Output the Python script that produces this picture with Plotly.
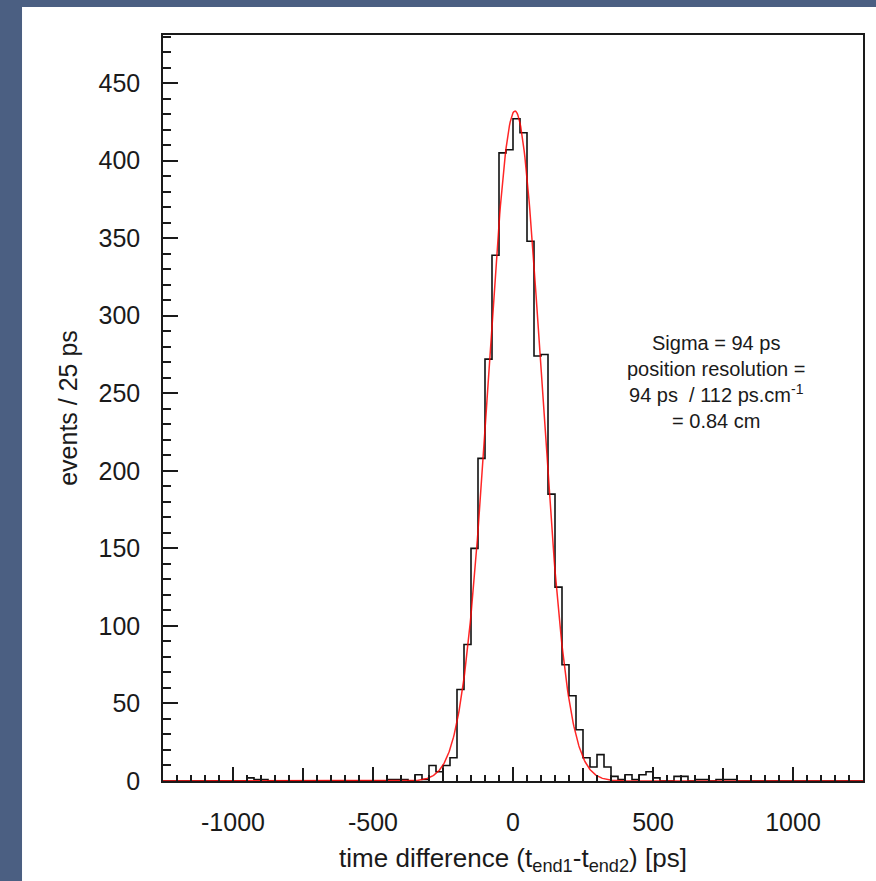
import numpy as np
import plotly.graph_objects as go

# ---- data ----
BIN_WIDTH = 25
X_MIN, X_MAX = -1250, 1250
# bin contents (events / 25 ps), 100 bins from -1250 to 1250 ps
counts_left_tail = [0] * 12 + [2, 1, 1] + [0] * 17 + [1, 1, 1, 0]          # -1250 .. -350
counts_core = [4, 1, 10, 6, 10, 15, 59, 88, 150, 208, 272, 339, 405, 407,   # -350 .. 0
               427, 418, 348, 274, 275, 185, 125, 75, 55, 33, 15, 9, 17, 9,  # 0 .. 350
               3, 1, 4, 1, 4, 6, 2, 0, 0, 3, 3, 0, 1, 1, 0, 1, 1, 1]         # 350 .. 800
counts_right_tail = [0] * 18                                                  # 800 .. 1250
counts = counts_left_tail + counts_core + counts_right_tail

# gaussian fit parameters
FIT_AMPLITUDE = 432
FIT_MEAN = 7
FIT_SIGMA = 94

x_label_vals = [-1000, -500, 0, 500, 1000]
x_label_text = ["-1000", "-500", "0", "500", "1000"]
y_tick_vals = [0, 50, 100, 150, 200, 250, 300, 350, 400, 450]

annotation_lines = ["Sigma = 94 ps", "position resolution =",
                    "94 ps  / 112 ps.cm<sup>-1</sup>", "= 0.84 cm"]

# ---- build ----
edges = np.arange(X_MIN, X_MAX + BIN_WIDTH, BIN_WIDTH)
step_y = list(counts) + [counts[-1]]

xf = np.linspace(X_MIN, X_MAX, 1001)
yf = FIT_AMPLITUDE * np.exp(-0.5 * ((xf - FIT_MEAN) / FIT_SIGMA) ** 2)

FONT = "Liberation Sans, Arial, Helvetica, sans-serif"
INK = "#1a1a1a"

fig = go.Figure()
fig.add_trace(go.Scatter(x=edges, y=step_y, mode="lines", line_shape="hv",
                         line=dict(color="#111111", width=1.6), showlegend=False,
                         hoverinfo="skip"))
fig.add_trace(go.Scatter(x=xf, y=yf, mode="lines", xaxis="x2",
                         line=dict(color="rgba(255,0,0,0.85)", width=1.5),
                         showlegend=False, hoverinfo="skip"))

fig.add_annotation(x=725, y=257, xref="x", yref="y", showarrow=False,
                   text="<br>".join(annotation_lines), align="center",
                   font=dict(family=FONT, size=20, color=INK),
                   xanchor="center", yanchor="middle")

fig.update_layout(
    width=876, height=881,
    margin=dict(l=163, r=13, t=35, b=100, pad=0),
    paper_bgcolor="#4b5f82",
    plot_bgcolor="white",
    font=dict(family=FONT, color=INK),
    shapes=[dict(type="rect", xref="paper", yref="paper",
                 x0=-0.2014, x1=1.03, y0=-0.14, y1=1.0375,
                 fillcolor="white", line=dict(width=0), layer="below")],
    xaxis2=dict(overlaying="x", anchor="y", side="bottom", range=[X_MIN, X_MAX],
                showgrid=False, zeroline=False, showline=False,
                ticks="inside", tick0=0, dtick=250, ticklen=13, tickwidth=1.5,
                tickcolor=INK, showticklabels=False),
)

fig.update_xaxes(selector=dict(anchor="y", overlaying=None))
fig.layout.xaxis.update(range=[X_MIN, X_MAX], showgrid=False, zeroline=False,
                 showline=True, linecolor=INK, linewidth=1.5, mirror=True,
                 ticks="inside", ticklen=14, tickwidth=1.5, tickcolor=INK,
                 tickmode="array", tickvals=x_label_vals, ticktext=x_label_text,
                 tickfont=dict(family=FONT, size=25, color=INK),
                 ticklabelstandoff=18,
                 minor=dict(ticks="inside", tick0=0, dtick=50, ticklen=6,
                            tickwidth=1.5, tickcolor=INK, showgrid=False),
                 title=dict(text="time difference (t<sub>end1</sub>-t<sub>end2</sub>) [ps]",
                            font=dict(family=FONT, size=26, color=INK), standoff=14))

fig.update_yaxes(range=[0, 481], showgrid=False, zeroline=False,
                 showline=True, linecolor=INK, linewidth=1.5, mirror=True,
                 ticks="inside", ticklen=15, tickwidth=1.5, tickcolor=INK,
                 tickmode="array", tickvals=y_tick_vals,
                 tickfont=dict(family=FONT, size=25, color=INK),
                 ticklabelstandoff=16,
                 minor=dict(ticks="inside", tick0=0, dtick=10, ticklen=8,
                            tickwidth=1.5, tickcolor=INK, showgrid=False),
                 title=dict(text="events / 25 ps",
                            font=dict(family=FONT, size=25, color=INK), standoff=14))

fig.write_html("out.html")
